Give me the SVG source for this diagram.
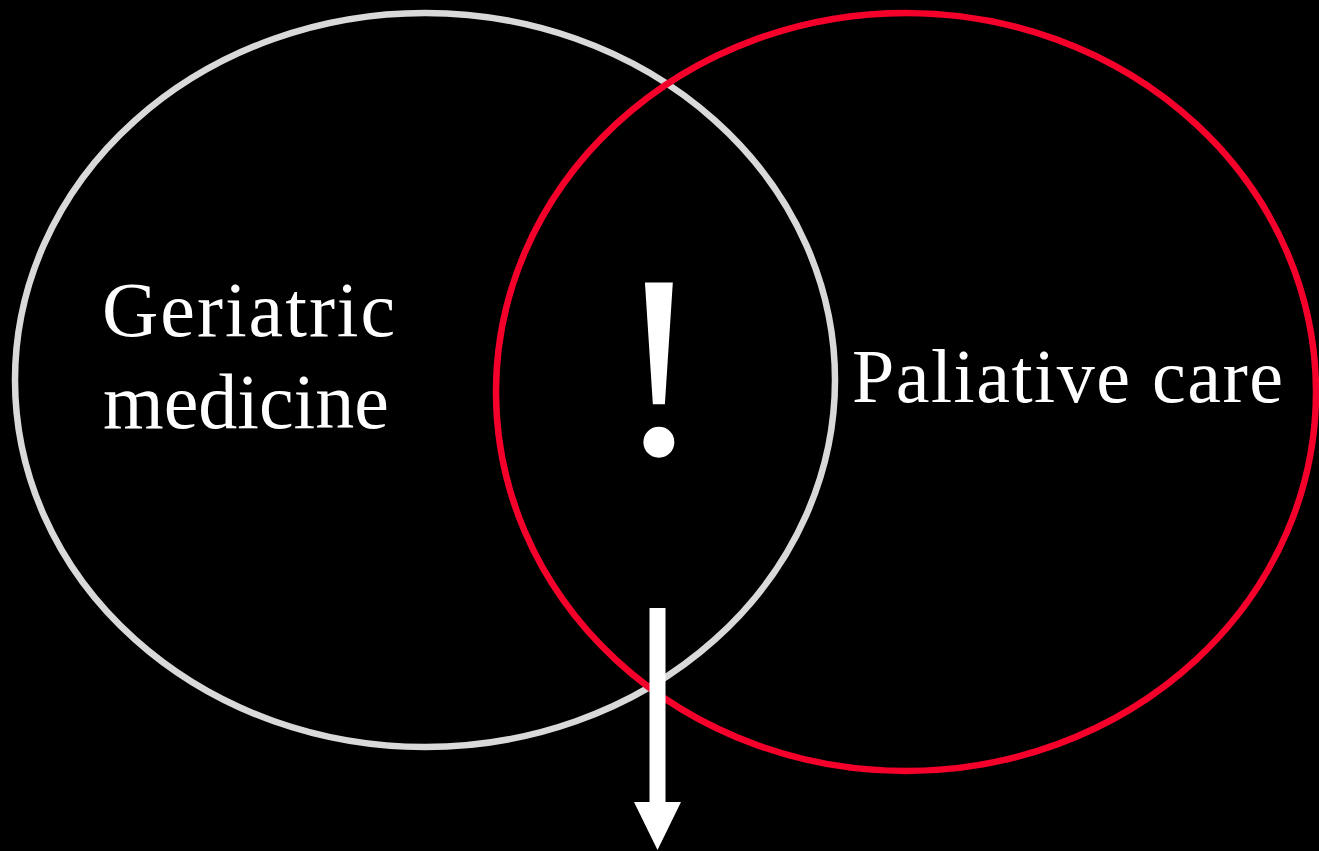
<svg xmlns="http://www.w3.org/2000/svg" width="1319" height="851" viewBox="0 0 1319 851">
<style>
.lbl{fill:#ffffff;font-family:"Liberation Serif","Times New Roman",serif;font-size:78px}
.lbl.sm{font-size:76px}
.ring{fill:none;stroke-width:6.5}
</style>
<rect x="0" y="0" width="1319" height="851" fill="#000000"/>
<g id="geriatric">
<ellipse class="ring" cx="425" cy="380" rx="410" ry="367" stroke="#d9d9d9"/>
<text class="lbl" x="102" y="336" letter-spacing="2">Geriatric</text>
<text class="lbl" x="103" y="428" letter-spacing="0">medicine</text>
</g>
<g id="palliative">
<ellipse class="ring" cx="906" cy="392" rx="410" ry="379" stroke="#f4002b"/>
<text class="lbl sm" x="852" y="402" letter-spacing="1.5">Paliative care</text>
</g>
<g id="overlap">
<text x="659" y="454" text-anchor="middle" fill="#ffffff" font-family="Liberation Serif, Times New Roman, serif" font-size="262">!</text>
</g>
<g id="connectors">
<rect x="649.5" y="608" width="16" height="195" fill="#ffffff"/>
<polygon points="634,802 681,802 657.5,850" fill="#ffffff"/>
</g>
</svg>
